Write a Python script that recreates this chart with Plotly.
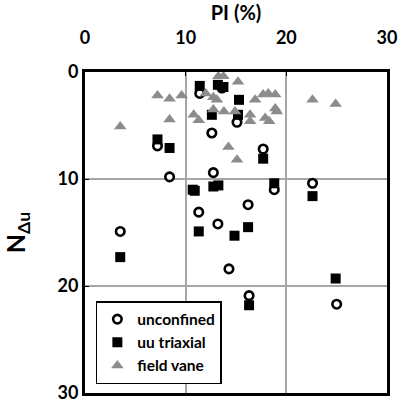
import plotly.graph_objects as go

# Data
unc_pi = [3.5, 7.2, 8.4, 12.6, 12.75, 11.4, 13.6, 15.1, 17.7, 22.6, 18.8, 16.2, 14.3, 11.3, 13.2, 16.3, 25.0]
unc_n  = [14.9, 6.9, 9.8, 5.7, 9.4, 2.0, 1.5, 4.7, 7.2, 10.4, 11.0, 12.4, 18.4, 13.1, 14.2, 20.9, 21.7]

uu_pi = [3.5, 7.2, 8.4, 11.4, 13.2, 13.75, 12.6, 15.3, 15.2, 17.7, 10.7, 10.9, 12.75, 13.25, 11.3, 14.85, 16.2, 18.8, 22.6, 24.9, 16.3]
uu_n  = [17.3, 6.3, 7.1, 1.3, 1.2, 1.4, 4.0, 2.6, 4.0, 8.1, 11.0, 11.1, 10.7, 10.6, 14.9, 15.3, 14.5, 10.4, 11.6, 19.3, 21.8]

fv_pi = [3.5, 7.2, 8.4, 9.6, 8.4, 10.8, 11.3, 13.25, 13.75, 12.0, 12.75, 13.1, 12.75, 13.8, 14.9, 14.25, 15.1,
         15.2, 16.9, 17.7, 18.2, 18.9, 18.9, 19.05, 17.9, 18.3, 16.4, 16.4, 22.6, 24.9]
fv_n  = [5.1, 2.2, 2.5, 2.2, 4.45, 4.0, 4.5, 0.4, 0.4, 2.0, 2.35, 2.6, 3.5, 3.7, 3.7, 7.0, 8.2,
         0.9, 2.6, 2.1, 2.0, 2.1, 3.4, 3.7, 4.3, 4.6, 4.0, 4.6, 2.6, 3.0]

x_ticks = [0, 10, 20, 30]
y_ticks = [0, 10, 20, 30]

FONT = "Lato"

fig = go.Figure()
fig.add_trace(go.Scatter(
    x=unc_pi, y=unc_n, mode="markers", name="unconfined",
    marker=dict(symbol="circle", size=8.5, color="white", line=dict(color="black", width=2.6)),
))
fig.add_trace(go.Scatter(
    x=uu_pi, y=uu_n, mode="markers", name="uu triaxial",
    marker=dict(symbol="square", size=10, color="black", line=dict(width=0)),
))
fig.add_trace(go.Scatter(
    x=fv_pi, y=fv_n, mode="markers", name="field vane",
    marker=dict(symbol="triangle-up", size=11, color="#8c8c8c", line=dict(width=0)),
))

fig.update_layout(
    width=399, height=401,
    margin=dict(l=85, r=12, t=72, b=8, autoexpand=False),
    paper_bgcolor="white", plot_bgcolor="white",
    font=dict(family=FONT, size=18, color="black", weight="bold"),
    showlegend=True,
    legend=dict(
        x=0.036, y=0.028, xanchor="left", yanchor="bottom",
        bgcolor="white", bordercolor="black", borderwidth=1.5,
        font=dict(family=FONT, size=15.5, color="black", weight="bold"),
        itemwidth=30, tracegroupgap=0,
    ),
    xaxis=dict(
        side="top", range=[0, 30], tickvals=x_ticks, ticktext=[str(v) for v in x_ticks],
        showgrid=True, gridcolor="#a6a6a6", gridwidth=1.5, zeroline=False,
        showline=True, linecolor="black", linewidth=3, mirror=True,
        ticks="inside", ticklen=4, tickcolor="black",
        ticklabelstandoff=18, ticklabeloverflow="allow",
        tickfont=dict(family=FONT, size=18, weight="bold"),
        title=dict(text="PI (%)", font=dict(family=FONT, size=20, weight="bold"), standoff=2),
    ),
    yaxis=dict(
        range=[30, 0], tickvals=y_ticks, ticktext=[str(v) for v in y_ticks],
        showgrid=True, gridcolor="#a6a6a6", gridwidth=1.5, zeroline=False,
        showline=True, linecolor="black", linewidth=3, mirror=True,
        ticks="inside", ticklen=4, tickcolor="black",
        ticklabeloverflow="allow", automargin=True,
        tickfont=dict(family=FONT, size=18, weight="bold"),
        title=dict(text="N<sub>Δu</sub>", font=dict(family=FONT, size=25, weight="bold"), standoff=27),
    ),
)

# Remove the default page margin so the 399x401 figure fills the window exactly
fig.write_html(
    "out.html",
    config={"displayModeBar": False},
    post_script="document.body.style.margin='0px'; document.body.style.overflow='hidden';",
)
